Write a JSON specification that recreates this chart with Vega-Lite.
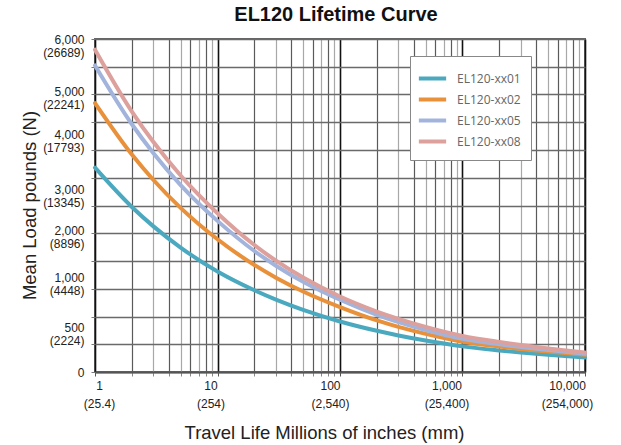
{
  "$schema": "https://vega.github.io/schema/vega-lite/v6.json",
  "width": 490,
  "height": 333,
  "autosize": {"type": "none"},
  "padding": {"left": 95, "top": 39, "right": 36, "bottom": 73},
  "background": "white",
  "title": {"text": "EL120 Lifetime Curve", "font": "Liberation Sans", "fontSize": 20, "fontWeight": "bold", "color": "#111", "anchor": "middle", "offset": 8, "dx": -4},
  "config": {"view": {"stroke": "#666", "strokeWidth": 2}},
  "data": {"values": [
    {"x": 1, "load": 3682, "series": "EL120-xx01"},
    {"x": 2, "load": 2974, "series": "EL120-xx01"},
    {"x": 3, "load": 2624, "series": "EL120-xx01"},
    {"x": 5, "load": 2242, "series": "EL120-xx01"},
    {"x": 10, "load": 1810, "series": "EL120-xx01"},
    {"x": 20, "load": 1472, "series": "EL120-xx01"},
    {"x": 30, "load": 1304, "series": "EL120-xx01"},
    {"x": 50, "load": 1119, "series": "EL120-xx01"},
    {"x": 100, "load": 910, "series": "EL120-xx01"},
    {"x": 200, "load": 742, "series": "EL120-xx01"},
    {"x": 300, "load": 659, "series": "EL120-xx01"},
    {"x": 500, "load": 567, "series": "EL120-xx01"},
    {"x": 1000, "load": 462, "series": "EL120-xx01"},
    {"x": 2000, "load": 389, "series": "EL120-xx01"},
    {"x": 3000, "load": 351, "series": "EL120-xx01"},
    {"x": 5000, "load": 309, "series": "EL120-xx01"},
    {"x": 10000, "load": 260, "series": "EL120-xx01"},
    {"x": 1, "load": 4845, "series": "EL120-xx02"},
    {"x": 2, "load": 3918, "series": "EL120-xx02"},
    {"x": 3, "load": 3460, "series": "EL120-xx02"},
    {"x": 5, "load": 2958, "series": "EL120-xx02"},
    {"x": 10, "load": 2392, "series": "EL120-xx02"},
    {"x": 20, "load": 1928, "series": "EL120-xx02"},
    {"x": 30, "load": 1700, "series": "EL120-xx02"},
    {"x": 50, "load": 1450, "series": "EL120-xx02"},
    {"x": 100, "load": 1169, "series": "EL120-xx02"},
    {"x": 200, "load": 929, "series": "EL120-xx02"},
    {"x": 300, "load": 812, "series": "EL120-xx02"},
    {"x": 500, "load": 686, "series": "EL120-xx02"},
    {"x": 1000, "load": 545, "series": "EL120-xx02"},
    {"x": 2000, "load": 460, "series": "EL120-xx02"},
    {"x": 3000, "load": 416, "series": "EL120-xx02"},
    {"x": 5000, "load": 367, "series": "EL120-xx02"},
    {"x": 10000, "load": 310, "series": "EL120-xx02"},
    {"x": 1, "load": 5523, "series": "EL120-xx05"},
    {"x": 2, "load": 4464, "series": "EL120-xx05"},
    {"x": 3, "load": 3942, "series": "EL120-xx05"},
    {"x": 5, "load": 3369, "series": "EL120-xx05"},
    {"x": 10, "load": 2723, "series": "EL120-xx05"},
    {"x": 20, "load": 2180, "series": "EL120-xx05"},
    {"x": 30, "load": 1915, "series": "EL120-xx05"},
    {"x": 50, "load": 1625, "series": "EL120-xx05"},
    {"x": 100, "load": 1301, "series": "EL120-xx05"},
    {"x": 200, "load": 1030, "series": "EL120-xx05"},
    {"x": 300, "load": 898, "series": "EL120-xx05"},
    {"x": 500, "load": 756, "series": "EL120-xx05"},
    {"x": 1000, "load": 598, "series": "EL120-xx05"},
    {"x": 2000, "load": 500, "series": "EL120-xx05"},
    {"x": 3000, "load": 450, "series": "EL120-xx05"},
    {"x": 5000, "load": 395, "series": "EL120-xx05"},
    {"x": 10000, "load": 330, "series": "EL120-xx05"},
    {"x": 1, "load": 5807, "series": "EL120-xx08"},
    {"x": 2, "load": 4693, "series": "EL120-xx08"},
    {"x": 3, "load": 4143, "series": "EL120-xx08"},
    {"x": 5, "load": 3541, "series": "EL120-xx08"},
    {"x": 10, "load": 2861, "series": "EL120-xx08"},
    {"x": 20, "load": 2288, "series": "EL120-xx08"},
    {"x": 30, "load": 2007, "series": "EL120-xx08"},
    {"x": 50, "load": 1702, "series": "EL120-xx08"},
    {"x": 100, "load": 1361, "series": "EL120-xx08"},
    {"x": 200, "load": 1090, "series": "EL120-xx08"},
    {"x": 300, "load": 957, "series": "EL120-xx08"},
    {"x": 500, "load": 812, "series": "EL120-xx08"},
    {"x": 1000, "load": 650, "series": "EL120-xx08"},
    {"x": 2000, "load": 540, "series": "EL120-xx08"},
    {"x": 3000, "load": 485, "series": "EL120-xx08"},
    {"x": 5000, "load": 423, "series": "EL120-xx08"},
    {"x": 10000, "load": 352, "series": "EL120-xx08"}
  ]},
  "resolve": {"axis": {"x": "independent", "y": "independent"}},
  "layer": [
    {
      "mark": {"type": "point", "opacity": 0},
      "encoding": {
        "x": {"field": "x", "type": "quantitative",
          "scale": {"type": "log", "domain": [1, 10000], "nice": false},
          "axis": {"orient": "bottom", "values": [2,3,4,5,6,7,8,9,20,30,40,50,60,70,80,90,200,300,400,500,600,700,800,900,2000,3000,4000,5000,6000,7000,8000,9000],
            "grid": true, "gridWidth": 1.2,
            "gridColor": {"condition": {"test": "floor(datum.value / pow(10, floor(log(datum.value) / LN10 + 1e-9)) + 1e-9) % 2 == 0", "value": "#5a5a5a"}, "value": "#a8a8a8"},
            "ticks": true, "tickSize": 4, "tickColor": "#888",
            "labels": false, "domain": false, "title": null}},
        "y": {"field": "load", "type": "quantitative",
          "scale": {"domain": [0, 6000], "nice": false, "zero": true},
          "axis": {"orient": "left", "values": [0,500,1000,1500,2000,2500,3000,3500,4000,4500,5000,5500,6000],
            "grid": true, "gridColor": "#6a6a6a", "gridWidth": 1.5,
            "ticks": true, "tickSize": 4, "tickColor": "#777",
            "labels": false, "domain": false, "title": null}}
      }
    },
    {
      "mark": {"type": "line", "strokeWidth": 4, "interpolate": "monotone", "strokeCap": "round"},
      "encoding": {
        "x": {"field": "x", "type": "quantitative",
          "scale": {"type": "log", "domain": [1, 10000], "nice": false},
          "axis": {"orient": "bottom", "values": [1, 10, 100, 1000, 10000],
            "grid": true, "gridColor": "#111", "gridWidth": 1.6,
            "ticks": true, "tickSize": 4, "tickColor": "#555",
            "domain": true, "domainColor": "#555", "domainWidth": 2,
            "labelExpr": "datum.value == 1 ? ['1','(25.4)'] : datum.value == 10 ? ['10','(254)'] : datum.value == 100 ? ['100','(2,540)'] : datum.value == 1000 ? ['1,000','(25,400)'] : ['10,000','(254,000)']",
            "labelFont": "Liberation Sans", "labelFontSize": 12, "labelColor": "#222",
            "labelLineHeight": 18, "labelPadding": 4, "labelFlush": false, "labelOverlap": false, "labelBound": false,
            "labelOffset": {"condition": [
              {"test": "datum.value == 1", "value": 4},
              {"test": "datum.value == 10", "value": -7},
              {"test": "datum.value == 100", "value": -10},
              {"test": "datum.value == 1000", "value": -16}
            ], "value": -18},
            "title": "Travel Life Millions of inches (mm)",
            "titleFont": "Liberation Sans", "titleFontSize": 18.5, "titleFontWeight": "normal", "titleColor": "#222",
            "titleX": 229, "titleY": 66, "titleBaseline": "alphabetic", "titleAlign": "center"}},
        "y": {"field": "load", "type": "quantitative",
          "scale": {"domain": [0, 6000], "nice": false, "zero": true},
          "axis": {"orient": "left", "values": [6000, 5049, 4273, 3280, 2558, 1709, 807, 0],
            "grid": false, "ticks": false, "domain": false,
            "labelExpr": "datum.value > 5500 ? ['6,000','(26689)'] : datum.value > 4600 ? ['5,000','(22241)'] : datum.value > 3700 ? ['4,000','(17793)'] : datum.value > 2900 ? ['3,000','(13345)'] : datum.value > 2100 ? ['2,000','(8896)'] : datum.value > 1250 ? ['1,000','(4448)'] : datum.value > 300 ? ['500','(2224)'] : '0'",
            "labelFont": "Liberation Sans", "labelFontSize": 12, "labelColor": "#222",
            "labelLineHeight": 13, "labelPadding": 11, "labelBaseline": "middle", "labelAlign": "right",
            "labelOverlap": false, "labelBound": false, "labelFlush": false,
            "title": "Mean Load pounds (N)",
            "titleFont": "Liberation Sans", "titleFontSize": 18.5, "titleFontWeight": "normal", "titleColor": "#222",
            "titleX": -66, "titleY": 166, "titleAngle": 270, "titleAlign": "center", "titleBaseline": "middle"}},
        "color": {"field": "series", "type": "nominal",
          "scale": {"domain": ["EL120-xx01", "EL120-xx02", "EL120-xx05", "EL120-xx08"], "range": ["#4BA9BF", "#E9913A", "#A2B4DC", "#DCA09D"]},
          "legend": {"orient": "none", "legendX": 315, "legendY": 17, "title": null,
            "fillColor": "white", "strokeColor": "#888", "padding": 10,
            "symbolType": "M-1.3,0H1.3", "symbolStrokeWidth": 4, "symbolSize": 441, "symbolOpacity": 1, "symbolFillColor": "transparent",
            "labelFont": "Open Sans", "labelFontSize": 12, "labelColor": "#666", "labelOffset": 12, "rowPadding": 0}}
      }
    }
  ]
}
